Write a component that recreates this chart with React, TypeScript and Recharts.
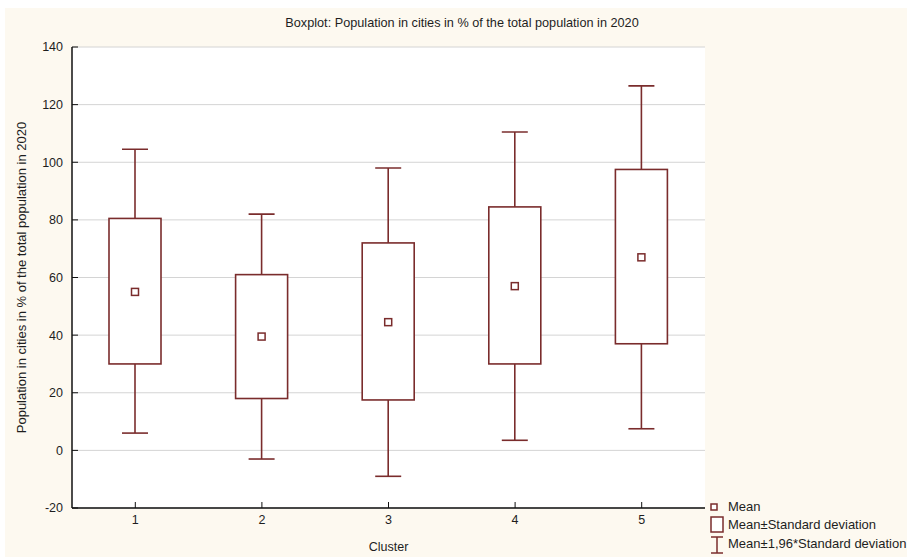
import React from "react";
import { ComposedChart, Bar, Line, XAxis, YAxis, CartesianGrid } from "recharts";

const clusters = ["1", "2", "3", "4", "5"];
const means = [55, 39.5, 44.5, 57, 67];
const sdLow = [30, 18, 17.5, 30, 37];
const sdHigh = [80.5, 61, 72, 84.5, 97.5];
const ciLow = [6, -3, -9, 3.5, 7.5];
const ciHigh = [104.5, 82, 98, 110.5, 126.5];
const yTicks = [-20, 0, 20, 40, 60, 80, 100, 120, 140];

const MAROON = "#7a2c2c";
const TEXT = "#1e1e1e";
const FONT = "'Liberation Sans', Arial, sans-serif";

const data = clusters.map((c, i) => ({
  cluster: c,
  mean: means[i],
  sdLow: sdLow[i],
  sdHigh: sdHigh[i],
  ciLow: ciLow[i],
  ciHigh: ciHigh[i],
  range: [ciLow[i], ciHigh[i]],
}));

// bar covers the whisker range; the rest is placed on the same pixel scale
function BoxShape(props: any) {
  const { x, y, width, height, payload } = props;
  const lo = payload.ciLow;
  const hi = payload.ciHigh;
  const toPx = (v: number) => y + (height * (hi - v)) / (hi - lo);
  const cx = x + width / 2;
  const cap = 13;
  const top = toPx(payload.sdHigh);
  const bot = toPx(payload.sdLow);
  const m = toPx(payload.mean);
  const yHi = toPx(hi);
  const yLo = toPx(lo);
  return (
    <g stroke={MAROON} strokeWidth={1.6} fill="none">
      <line x1={cx} x2={cx} y1={yHi} y2={top} />
      <line x1={cx} x2={cx} y1={bot} y2={yLo} />
      <line x1={cx - cap} x2={cx + cap} y1={yHi} y2={yHi} />
      <line x1={cx - cap} x2={cx + cap} y1={yLo} y2={yLo} />
      <rect x={x} y={top} width={width} height={bot - top} fill="#fff" />
      <rect x={cx - 3.5} y={m - 3.5} width={7} height={7} fill="#fff" strokeWidth={1.5} />
    </g>
  );
}

function LegendBox() {
  return (
    <svg
      width={200}
      height={60}
      style={{ position: "absolute", left: 703, top: 490, overflow: "visible" }}
    >
      <g stroke={MAROON} strokeWidth={1.5} fill="#fff">
        <rect x={3} y={6} width={6} height={6} />
        <rect x={3} y={19} width={12} height={15} />
        <line x1={9} x2={9} y1={39} y2={55} />
        <line x1={3} x2={15} y1={39} y2={39} />
        <line x1={3} x2={15} y1={55} y2={55} />
      </g>
      <g fill={TEXT} fontFamily={FONT} fontSize={13}>
        <text x={20} y={13}>Mean</text>
        <text x={20} y={31}>Mean±Standard deviation</text>
        <text x={20} y={50}>Mean±1,96*Standard deviation</text>
      </g>
    </svg>
  );
}

export default function App() {
  return (
    <div
      style={{
        position: "absolute",
        left: 5,
        top: 8,
        width: 902,
        height: 549,
        background: "#fdf9f0",
        fontFamily: FONT,
      }}
    >
      <div
        style={{
          position: "absolute",
          top: 8,
          left: 0,
          width: 914,
          textAlign: "center",
          fontSize: 12.7,
          color: TEXT,
        }}
      >
        Boxplot: Population in cities in % of the total population in 2020
      </div>
      <ComposedChart
        width={902}
        height={549}
        data={data}
        margin={{ top: 39, right: 202, bottom: 0, left: 0 }}
      >
        <CartesianGrid
          horizontal
          vertical={false}
          stroke="#d4d4d4"
          fill="#ffffff"
          fillOpacity={1}
        />
        <XAxis
          dataKey="cluster"
          height={49}
          tickSize={-6}
          tickMargin={13}
          stroke="#111"
          axisLine={{ strokeWidth: 1.5 }}
          tick={{ fill: TEXT, fontSize: 12.5 }}
          label={{ value: "Cluster", position: "insideBottom", offset: 6, fill: TEXT, fontSize: 12.5 }}
        />
        <XAxis
          xAxisId="top"
          dataKey="cluster"
          orientation="top"
          height={0}
          tick={false}
          tickSize={-6}
          stroke="#111"
          axisLine={{ strokeWidth: 1.5 }}
        />
        <YAxis
          domain={[-20, 140]}
          ticks={yTicks}
          width={67}
          tickSize={-6}
          tickMargin={15}
          stroke="#111"
          axisLine={{ strokeWidth: 1.5 }}
          tick={{ fill: TEXT, fontSize: 12.5 }}
          allowDataOverflow
          label={{
            value: "Population in cities in % of the total population in 2020",
            angle: -90,
            position: "center",
            dx: -17,
            fill: TEXT,
            fontSize: 13,
          }}
        />
        <YAxis
          yAxisId="r"
          orientation="right"
          domain={[-20, 140]}
          ticks={yTicks}
          width={0}
          tick={false}
          tickSize={-6}
          stroke="#111"
          axisLine={{ strokeWidth: 1.5 }}
          allowDataOverflow
        />
        <Bar
          dataKey="range"
          barSize={52}
          shape={BoxShape}
          isAnimationActive={false}
        />
        <Line
          xAxisId="top"
          yAxisId="r"
          dataKey="mean"
          stroke="none"
          dot={false}
          activeDot={false}
          isAnimationActive={false}
        />
      </ComposedChart>
      <LegendBox />
    </div>
  );
}
